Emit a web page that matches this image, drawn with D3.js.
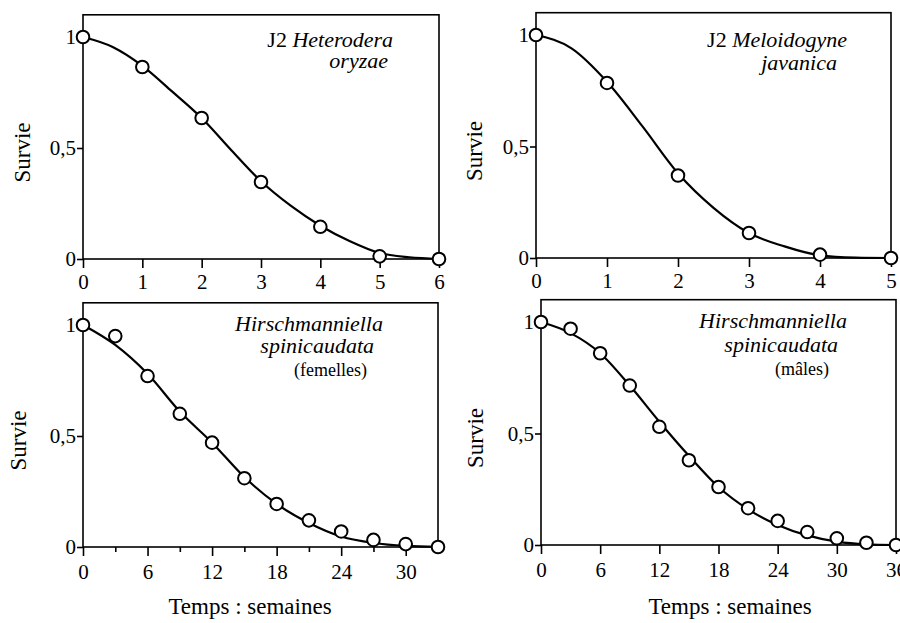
<!DOCTYPE html>
<html><head><meta charset="utf-8">
<script src="https://cdn.jsdelivr.net/npm/d3@7"></script>
<style>
html,body{margin:0;padding:0;background:#fff;}
svg text{font-family:"Liberation Serif","Times New Roman","DejaVu Serif",serif !important;fill:#000;}
</style></head>
<body><svg id="c" width="900" height="623" font-family="Liberation Serif"></svg>
<script>
// ---- data ----
const yTickValues = [0, 0.5, 1];
const yTickLabels = ["0", "0,5", "1"];
const yLabel = "Survie";
const xLabel = "Temps : semaines";

// Panel A : J2 Heterodera oryzae
const aWeeks = [0, 1, 2, 3, 4, 5, 6];
const aSurvival = [1, 0.865, 0.635, 0.347, 0.145, 0.012, 0];
const aFitWeeks = [0, 0.5, 1, 1.5, 2, 2.5, 3, 3.5, 4, 4.5, 5, 5.5, 6];
const aFit = [1, 0.955, 0.87, 0.755, 0.635, 0.49, 0.35, 0.24, 0.15, 0.08, 0.027, 0.008, 0.001];
const aTicks = [0, 1, 2, 3, 4, 5, 6];

// Panel B : J2 Meloidogyne javanica
const bWeeks = [0, 1, 2, 3, 4, 5];
const bSurvival = [1, 0.785, 0.37, 0.112, 0.015, 0];
const bFitWeeks = [0, 0.5, 1, 1.5, 2, 2.5, 3, 3.5, 4, 4.5, 5];
const bFit = [1, 0.94, 0.79, 0.59, 0.38, 0.225, 0.112, 0.052, 0.012, 0.002, 0];
const bTicks = [0, 1, 2, 3, 4, 5];

// Panel C : Hirschmanniella spinicaudata (femelles)
const cWeeks = [0, 3, 6, 9, 12, 15, 18, 21, 24, 27, 30, 33];
const cSurvival = [1, 0.95, 0.77, 0.60, 0.47, 0.31, 0.194, 0.12, 0.07, 0.032, 0.013, 0];
const cFitWeeks = [0, 3, 6, 9, 12, 15, 18, 21, 24, 27, 30, 33];
const cFit = [1, 0.91, 0.78, 0.61, 0.47, 0.315, 0.194, 0.108, 0.047, 0.018, 0.005, 0.001];
const cTicks = [0, 6, 12, 18, 24, 30];
const cMinorTicks = [3, 9, 15, 21, 27];

// Panel D : Hirschmanniella spinicaudata (mâles)
const dWeeks = [0, 3, 6, 9, 12, 15, 18, 21, 24, 27, 30, 33, 36];
const dSurvival = [1, 0.97, 0.86, 0.715, 0.53, 0.38, 0.26, 0.165, 0.108, 0.058, 0.03, 0.01, 0];
const dFitWeeks = [0, 3, 6, 9, 12, 15, 18, 21, 24, 27, 30, 33, 36];
const dFit = [1, 0.95, 0.86, 0.715, 0.553, 0.40, 0.26, 0.16, 0.09, 0.043, 0.015, 0.003, 0];
const dTicks = [0, 6, 12, 18, 24, 30, 36];

// ---- layout ----
const FONT = '"Liberation Serif","Times New Roman",serif';
const panels = [
  {weeks:aWeeks, surv:aSurvival, fitW:aFitWeeks, fit:aFit, ticks:aTicks, minor:[], xMax:6,
   left:83, right:439, y0:259, y1:37, survX:22, labPad:6,
   title:[[["J2 ",false],["Heterodera",true]],[["oryzae",true]]], titleX:[393,388], titleY:[47,68], sub:null, xlab:null},
  {weeks:bWeeks, surv:bSurvival, fitW:bFitWeeks, fit:bFit, ticks:bTicks, minor:[], xMax:5,
   left:536, right:891, y0:258, y1:35, survX:474, labPad:6,
   title:[[["J2 ",false],["Meloidogyne",true]],[["javanica",true]]], titleX:[847,837], titleY:[47,70], sub:null, xlab:null},
  {weeks:cWeeks, surv:cSurvival, fitW:cFitWeeks, fit:cFit, ticks:cTicks, minor:cMinorTicks, xMax:33,
   left:83, right:438, y0:547, y1:325, survX:18, labPad:8,
   title:[[["Hirschmanniella",true]],[["spinicaudata",true]]], titleX:[383,374], titleY:[331,353],
   sub:"(femelles)", subX:367, subY:376, xlab:[250,614]},
  {weeks:dWeeks, surv:dSurvival, fitW:dFitWeeks, fit:dFit, ticks:dTicks, minor:[], xMax:36,
   left:541, right:896, y0:545, y1:322, survX:475, labPad:8,
   title:[[["Hirschmanniella",true]],[["spinicaudata",true]]], titleX:[847,838], titleY:[328,352],
   sub:"(mâles)", subX:829, subY:375, xlab:[730,614]}
];

const svg = d3.select("#c");
svg.append("rect").attr("width",900).attr("height",623).attr("fill","#fff");

panels.forEach(p => {
  const x = d3.scaleLinear().domain([0, p.xMax]).range([p.left, p.right]);
  const y = d3.scaleLinear().domain([0, 1]).range([p.y0, p.y1]);
  const g = svg.append("g").attr("font-family", FONT);

  // frame
  g.append("rect")
    .attr("x", x(0)).attr("y", y(1.1))
    .attr("width", x(p.xMax) - x(0)).attr("height", y(0) - y(1.1))
    .attr("fill", "none").attr("stroke", "#000").attr("stroke-width", 1.6);

  // x axis
  const xa = g.append("g").attr("transform", `translate(0,${y(0)})`)
    .call(d3.axisBottom(x).tickValues(p.ticks).tickSize(9).tickPadding(p.labPad).tickFormat(d3.format("d")));
  xa.attr("font-family", FONT).attr("font-size", 21);
  xa.select(".domain").remove();
  xa.selectAll("line").attr("stroke-width", 1.6);
  xa.selectAll("text").style("font-size", "21px").style("font-family", FONT);
  if (p.minor.length) {
    const xm = g.append("g").attr("transform", `translate(0,${y(0)})`)
      .call(d3.axisBottom(x).tickValues(p.minor).tickSize(5).tickFormat(""));
    xm.select(".domain").remove();
    xm.selectAll("line").attr("stroke-width", 1.6);
  }

  // y axis
  const ya = g.append("g").attr("transform", `translate(${x(0)},0)`)
    .call(d3.axisLeft(y).tickValues(yTickValues).tickSize(6).tickPadding(1)
      .tickFormat((d, i) => yTickLabels[i]));
  ya.attr("font-family", FONT).attr("font-size", 21);
  ya.select(".domain").remove();
  ya.selectAll("line").attr("stroke-width", 1.6);
  ya.selectAll("text").style("font-size", "21px").style("font-family", FONT);

  // y label
  g.append("text")
    .attr("transform", `translate(${p.survX},${y(0.48)}) rotate(-90)`)
    .attr("text-anchor", "middle").attr("dy", "0.35em")
    .style("font-family", FONT).style("font-size", "23px").text(yLabel);

  // fitted curve
  const fitPts = p.fitW.map((w, i) => [w, p.fit[i]]);
  g.append("path").datum(fitPts)
    .attr("d", d3.line().x(d => x(d[0])).y(d => y(d[1])).curve(d3.curveMonotoneX))
    .attr("fill", "none").attr("stroke", "#000").attr("stroke-width", 2.2);

  // observed points
  g.selectAll("circle.obs").data(p.weeks.map((w, i) => [w, p.surv[i]]))
    .join("circle").attr("class", "obs")
    .attr("cx", d => x(d[0])).attr("cy", d => y(d[1])).attr("r", 6.3)
    .attr("fill", "#fff").attr("stroke", "#000").attr("stroke-width", 2);

  // title
  p.title.forEach((line, li) => {
    const t = g.append("text").attr("x", p.titleX[li]).attr("y", p.titleY[li])
      .attr("text-anchor", "end").style("font-family", FONT).style("font-size", "22px");
    line.forEach(([s, it]) => t.append("tspan")
      .style("font-family", FONT).style("font-style", it ? "italic" : "normal").text(s));
  });
  if (p.sub) {
    g.append("text").attr("x", p.subX).attr("y", p.subY).attr("text-anchor", "end")
      .style("font-family", FONT).style("font-size", "18px").text(p.sub);
  }
  if (p.xlab) {
    g.append("text").attr("x", p.xlab[0]).attr("y", p.xlab[1]).attr("text-anchor", "middle")
      .style("font-family", FONT).style("font-size", "23px").text(xLabel);
  }
});
</script></body></html>
